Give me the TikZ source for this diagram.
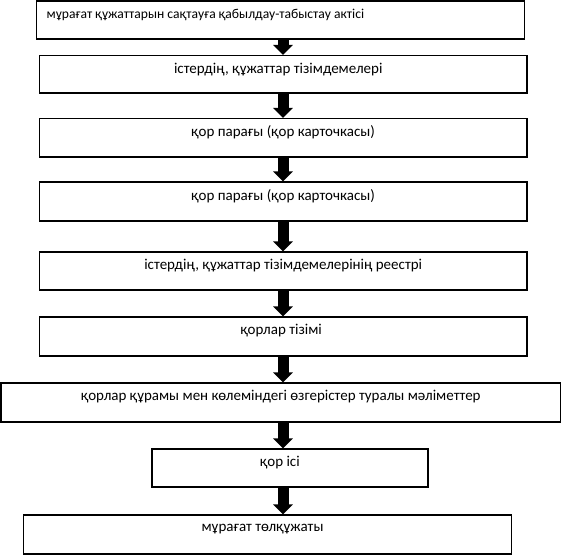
\documentclass[tikz,border=0pt]{standalone}
\usepackage{fontspec}
\setmainfont{Carlito}
\usetikzlibrary{arrows.meta}
\begin{document}
\begin{tikzpicture}[x=1pt,y=-1pt,
  box/.style={draw=black,line width=1.1pt,minimum height=38pt,inner sep=0pt},
  txt/.style={inner sep=0pt,font=\fontsize{15}{17}\selectfont},
  flow/.style={line width=11pt,-{Triangle[width=19pt,length=10pt]}}]
\useasboundingbox (0,0) rectangle (562,556);
\coordinate (ax) at (283,0);
\node[box,minimum width=488pt,minimum height=38pt] (b1) at (280.5,20) {};
\node[box,minimum width=487.5pt,minimum height=37.5pt] (b2) at (283.25,74.25) {};
\node[box,minimum width=487.5pt,minimum height=38.5pt] (b3) at (283.25,137.75) {};
\node[box,minimum width=487.5pt,minimum height=39pt] (b4) at (283.25,201.5) {};
\node[box,minimum width=487.5pt,minimum height=38pt] (b5) at (283.25,271) {};
\node[box,minimum width=487.5pt,minimum height=39pt] (b6) at (283.25,336.5) {};
\node[box,minimum width=559.7pt,minimum height=39pt] (b7) at (280.85,402.5) {};
\node[box,minimum width=276pt,minimum height=38pt] (b8) at (290,468) {};
\node[box,minimum width=488.2pt,minimum height=39pt] (b9) at (267.6,534.5) {};
\node[txt,anchor=west,font=\fontsize{13.6}{16}\selectfont] (t1) at ([shift={(10.5,14.5)}]b1.north west) {мұрағат құжаттарын сақтауға қабылдау-табыстау актісі};
\node[txt] (t2) at ([shift={(-5,14.5)}]b2.north) {істердің, құжаттар тізімдемелері};
\node[txt] (t3) at ([shift={(0,14.5)}]b3.north) {қор парағы (қор карточкасы)};
\node[txt] (t4) at ([shift={(0,14.5)}]b4.north) {қор парағы (қор карточкасы)};
\node[txt] (t5) at ([shift={(0,14.5)}]b5.north) {істердің, құжаттар тізімдемелерінің реестрі};
\node[txt] (t6) at ([shift={(-2,14.5)}]b6.north) {қорлар тізімі};
\node[txt] (t7) at ([shift={(0,14.5)}]b7.north) {қорлар құрамы мен көлеміндегі өзгерістер туралы мәліметтер};
\node[txt] (t8) at ([shift={(-10,14.5)}]b8.north) {қор ісі};
\node[txt] (t9) at ([shift={(-5,14.5)}]b9.north) {мұрағат төлқұжаты};
\foreach \a/\b in {b1/b2,b2/b3,b3/b4,b4/b5,b5/b6,b6/b7,b7/b8,b8/b9}
  \draw[flow] (\a.south -| ax) -- (\b.north -| ax);
\end{tikzpicture}
\end{document}
